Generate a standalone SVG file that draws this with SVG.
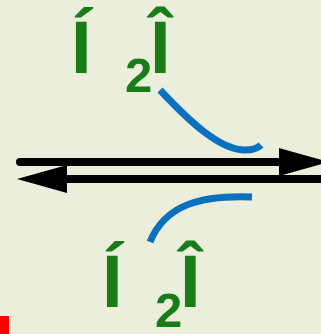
<svg xmlns="http://www.w3.org/2000/svg" width="321" height="334" viewBox="0 0 321 334">
<defs>
<style>
.t{font-family:"Liberation Sans",Arial,sans-serif;font-weight:bold;fill:#187C18}
.big{font-size:74px}
.sub{font-size:49px}
.ln{stroke:#000;stroke-width:8;stroke-linecap:round;fill:none}
.cv{stroke:#0A70C0;stroke-width:7;fill:none}
</style>
<marker id="ah" markerUnits="userSpaceOnUse" viewBox="0 0 50 28" markerWidth="50" markerHeight="28" refX="6" refY="14" orient="auto">
<path d="M0,0 L50,14 L0,28 Z" fill="#000"/>
</marker>
</defs>
<rect width="321" height="334" fill="#EBEEDA"/>
<rect x="0" y="316" width="9" height="18" fill="#FF0000"/>
<g id="top-species">
<text class="t big" x="71" y="73">Í</text>
<text class="t sub" x="125" y="92">2</text>
<text class="t big" x="150" y="73">Î</text>
</g>
<g id="bottom-species">
<text class="t big" x="102" y="307">Í</text>
<text class="t sub" x="155" y="327">2</text>
<text class="t big" x="180" y="307">Î</text>
</g>
<g id="connectors">
<line class="ln" x1="20" y1="162" x2="285" y2="162" marker-end="url(#ah)"/>
<line class="ln" x1="330" y1="179" x2="61" y2="179" marker-end="url(#ah)"/>
<path class="cv" d="M160,90 C190,122 220,150 245,150 C252,150 258,148 261,145"/>
<path class="cv" d="M150,242 C165,205 200,195 252,197"/>
</g>
</svg>
